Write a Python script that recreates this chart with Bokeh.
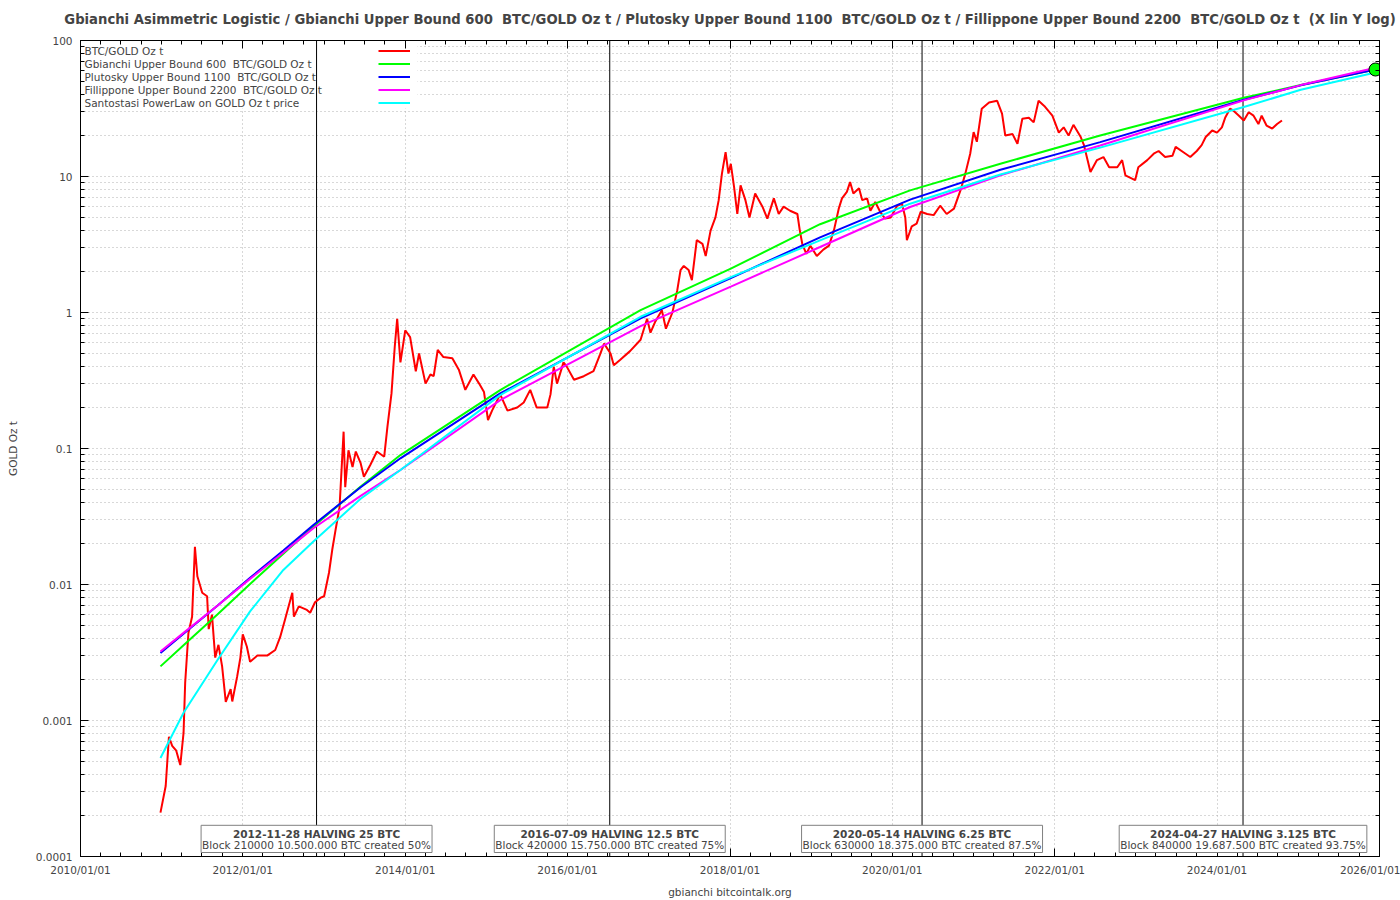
import pandas as pd

from bokeh.embed import file_html
from bokeh.models import (BoxAnnotation, ColumnDataSource, CustomJSTickFormatter,
                          DatetimeAxis, DatetimeTickFormatter, FixedTicker, Label,
                          Legend, LegendItem, LogAxis, Range1d, Span)
from bokeh.plotting import figure
from bokeh.resources import INLINE

FONT = "DejaVu Sans"
FS = "10.5px"
SP2 = " \u00a0"  # double space that svg keeps

# BTC/GOLD ratio (decimal year, GOLD Oz t)
btc_t = [2010.985, 2011.05, 2011.09, 2011.13, 2011.18, 2011.23, 2011.27, 2011.29, 2011.33, 2011.375,
         2011.41, 2011.44, 2011.50, 2011.56, 2011.58, 2011.62, 2011.66, 2011.70, 2011.745, 2011.79,
         2011.85, 2011.87, 2011.93, 2011.97, 2012.00, 2012.05, 2012.09, 2012.18, 2012.30, 2012.40,
         2012.46, 2012.52, 2012.61, 2012.63, 2012.69, 2012.79, 2012.83, 2012.89, 2012.96, 2013.00,
         2013.06, 2013.10, 2013.14, 2013.19, 2013.24, 2013.26, 2013.30, 2013.35, 2013.39, 2013.45,
         2013.49, 2013.57, 2013.65, 2013.74, 2013.78, 2013.83, 2013.87, 2013.90, 2013.94, 2014.00,
         2014.06, 2014.13, 2014.17, 2014.25, 2014.31, 2014.35, 2014.40, 2014.47, 2014.58, 2014.66,
         2014.74, 2014.84, 2014.91, 2014.97, 2015.02, 2015.07, 2015.17, 2015.26, 2015.38, 2015.46,
         2015.54, 2015.62, 2015.75, 2015.79, 2015.83, 2015.87, 2015.95, 2015.99, 2016.08, 2016.20,
         2016.32, 2016.40, 2016.45, 2016.53, 2016.57, 2016.65, 2016.77, 2016.90, 2016.98, 2017.02,
         2017.08, 2017.16, 2017.21, 2017.29, 2017.35, 2017.39, 2017.43, 2017.49, 2017.53, 2017.59,
         2017.66, 2017.70, 2017.76, 2017.82, 2017.86, 2017.90, 2017.945, 2017.98, 2018.01, 2018.05,
         2018.09, 2018.13, 2018.19, 2018.24, 2018.31, 2018.40, 2018.46, 2018.54, 2018.60, 2018.66,
         2018.74, 2018.83, 2018.86, 2018.89, 2018.94, 2018.99, 2019.07, 2019.15, 2019.22, 2019.28,
         2019.34, 2019.38, 2019.44, 2019.48, 2019.52, 2019.59, 2019.63, 2019.69, 2019.73, 2019.79,
         2019.85, 2019.91, 2019.98, 2020.06, 2020.12, 2020.16, 2020.18, 2020.24, 2020.30, 2020.35,
         2020.43, 2020.51, 2020.59, 2020.67, 2020.76, 2020.84, 2020.90, 2020.96, 2021.00, 2021.04,
         2021.10, 2021.19, 2021.29, 2021.35, 2021.39, 2021.48, 2021.54, 2021.60, 2021.68, 2021.74,
         2021.80, 2021.87, 2021.97, 2022.05, 2022.11, 2022.17, 2022.23, 2022.32, 2022.36, 2022.44,
         2022.52, 2022.60, 2022.67, 2022.77, 2022.83, 2022.87, 2022.99, 2023.03, 2023.14, 2023.22,
         2023.28, 2023.36, 2023.45, 2023.49, 2023.59, 2023.67, 2023.75, 2023.81, 2023.86, 2023.94,
         2024.00, 2024.06, 2024.10, 2024.16, 2024.20, 2024.27, 2024.33, 2024.39, 2024.45, 2024.51,
         2024.55, 2024.61, 2024.68, 2024.74, 2024.80]
btc_v = [0.00021, 0.00033, 0.00076, 0.00065, 0.00060, 0.00047, 0.00081, 0.0019, 0.0044, 0.0058,
         0.0189, 0.0115, 0.0087, 0.0082, 0.0047, 0.0060, 0.0029, 0.0036, 0.0025, 0.00137,
         0.0017, 0.00138, 0.0021, 0.0029, 0.0043, 0.0035, 0.0027, 0.0030, 0.0030, 0.0033,
         0.0041, 0.0055, 0.0087, 0.0058, 0.0069, 0.0065, 0.0062, 0.0074, 0.0080, 0.0082,
         0.0122, 0.018, 0.025, 0.037, 0.133, 0.052, 0.097, 0.073, 0.095, 0.078,
         0.062, 0.076, 0.095, 0.087, 0.145, 0.254, 0.56, 0.90, 0.43, 0.74,
         0.66, 0.37, 0.50, 0.30, 0.35, 0.34, 0.53, 0.47, 0.46, 0.38,
         0.27, 0.35, 0.30, 0.26, 0.162, 0.19, 0.25, 0.19, 0.20, 0.218,
         0.27, 0.20, 0.20, 0.25, 0.40, 0.30, 0.43, 0.40, 0.32, 0.34,
         0.37, 0.49, 0.59, 0.50, 0.41, 0.45, 0.52, 0.63, 0.90, 0.71,
         0.86, 1.04, 0.76, 1.00, 1.46, 2.05, 2.2, 2.05, 1.73, 3.4,
         3.2, 2.6, 4.0, 5.0, 6.7, 10.5, 15.1, 10.5, 12.4, 8.4,
         5.3, 8.6, 6.7, 5.0, 7.5, 6.0, 4.9, 6.9, 5.3, 6.0,
         5.6, 5.3, 4.0, 3.2, 2.7, 3.1, 2.6, 2.9, 3.1, 4.0,
         5.8, 6.9, 7.7, 9.1, 7.5, 8.2, 6.7, 6.9, 5.6, 6.5,
         5.5, 4.9, 5.0, 6.1, 6.3, 5.0, 3.4, 4.3, 4.5, 5.5,
         5.3, 5.2, 6.1, 5.3, 5.8, 7.9, 10.5, 14.7, 21.2, 18.0,
         31.5, 35.0, 36.0, 29.0, 20.0, 20.5, 17.4, 26.6, 27.0, 25.0,
         36.0, 33.0, 28.0, 21.0, 23.0, 20.0, 24.0, 19.5, 17.0, 10.8,
         13.2, 13.9, 11.7, 11.7, 13.2, 10.2, 9.4, 11.7, 13.2, 14.7,
         15.4, 13.9, 14.2, 16.5, 15.0, 13.9, 15.4, 17.0, 19.5, 21.8,
         21.0, 23.0, 27.0, 31.5, 30.6, 28.0, 25.8, 29.7, 28.0, 24.3,
         28.0, 23.7, 22.5, 24.3, 25.8]

# model curves at common dates
model_t = [2010.985, 2011.27, 2011.69, 2012.09, 2012.50, 2012.87, 2013.45, 2013.94, 2015.17,
           2016.90, 2018.01, 2019.11, 2020.22, 2021.33, 2022.56, 2024.33, 2025.03, 2025.95]
gbianchi_600 = [0.0025, 0.00357, 0.00604, 0.0101, 0.0168, 0.0267, 0.0525, 0.0895, 0.269,
                1.04, 2.10, 4.46, 7.91, 12.4, 20.0, 37.9, 47.0, 61.2]
plutosky_1100 = [0.00313, 0.00434, 0.00702, 0.0112, 0.0178, 0.0274, 0.0519, 0.0847, 0.254,
                 0.904, 1.79, 3.57, 6.76, 11.2, 17.9, 36.7, 46.8, 61.2]
fillippone_2200 = [0.00322, 0.00441, 0.0070, 0.0110, 0.0172, 0.0259, 0.0448, 0.0695, 0.227,
                   0.794, 1.55, 3.03, 5.97, 10.2, 16.9, 36.3, 47.0, 63.1]
santostasi_pl = [0.00053, 0.00114, 0.0028, 0.00634, 0.0128, 0.0207, 0.0427, 0.0695, 0.247,
                 0.93, 1.82, 3.39, 6.31, 10.35, 16.3, 32.4, 43.4, 58.2]

halving_dates = ["2012-11-28", "2016-07-09", "2020-05-14", "2024-04-27"]
halving_titles = ["2012-11-28 HALVING 25 BTC", "2016-07-09 HALVING 12.5 BTC",
                  "2020-05-14 HALVING 6.25 BTC", "2024-04-27 HALVING 3.125 BTC"]
halving_notes = ["Block 210000 10.500.000 BTC created 50%",
                 "Block 420000 15.750.000 BTC created 75%",
                 "Block 630000 18.375.000 BTC created 87.5%",
                 "Block 840000 19.687.500 BTC created 93.75%"]

legend_labels = ["BTC/GOLD Oz t",
                 "Gbianchi Upper Bound 600  BTC/GOLD Oz t",
                 "Plutosky Upper Bound 1100  BTC/GOLD Oz t",
                 "Fillippone Upper Bound 2200  BTC/GOLD Oz t",
                 "Santostasi PowerLaw on GOLD Oz t price"]
colors = ["#ff0000", "#00ff00", "#0000ff", "#ff00ff", "#00ffff"]

y_ticks = [0.0001, 0.001, 0.01, 0.1, 1, 10, 100]


def to_dt(years):
    out = []
    for y in years:
        yi = int(y)
        out.append(pd.Timestamp(yi, 1, 1) + pd.Timedelta(days=(y - yi) * 365.25))
    return out


def ms(ts):
    return pd.Timestamp(ts).value / 1e6


def keep_spaces(s):
    return s.replace("  ", SP2)


x_major = [ms(f"{y}-01-01") for y in range(2010, 2027, 2)]
x_minor = [ms(f"{y}-{m:02d}-01") for y in range(2010, 2026) for m in (1, 4, 7, 10)]
y_minor = [k * t for t in y_ticks[:-1] for k in range(2, 10)]

title = ("Gbianchi Asimmetric Logistic / Gbianchi Upper Bound 600  BTC/GOLD Oz t / "
         "Plutosky Upper Bound 1100  BTC/GOLD Oz t / Fillippone Upper Bound 2200  BTC/GOLD Oz t  "
         "(X lin Y log)")

p = figure(width=1400, height=900, x_axis_type="datetime", y_axis_type="log",
           x_range=Range1d(ms("2010-01-01"), ms("2026-01-01")), y_range=Range1d(0.0001, 100),
           output_backend="svg", toolbar_location=None,
           min_border_left=80, min_border_right=21, min_border_top=40, min_border_bottom=43)
p.title.text = keep_spaces(title)
p.title.align = "center"
p.title.vertical_align = "top"
p.title.text_font = FONT
p.title.text_font_size = "13.2px"
p.title.text_font_style = "bold"
p.title.standoff = 23
p.outline_line_color = "black"
p.outline_line_alpha = 1

xticker = FixedTicker(ticks=x_major, minor_ticks=x_minor)
yticker = FixedTicker(ticks=y_ticks, minor_ticks=y_minor)
xfmt = DatetimeTickFormatter(years="%Y/%m/%d", months="%Y/%m/%d", days="%Y/%m/%d")
yfmt = CustomJSTickFormatter(code="return tick.toString()")
blank = CustomJSTickFormatter(code="return ''")


def style_axis(ax):
    ax.axis_line_color = "black"
    ax.major_tick_in = 8
    ax.major_tick_out = 0
    ax.minor_tick_in = 4
    ax.minor_tick_out = 0
    ax.major_tick_line_color = "black"
    ax.minor_tick_line_color = "black"
    ax.major_label_text_font = FONT
    ax.major_label_text_font_size = FS
    ax.axis_label_text_font = FONT
    ax.axis_label_text_font_size = FS
    ax.axis_label_text_font_style = "normal"


xa = p.xaxis[0]
xa.ticker = xticker
xa.formatter = xfmt
style_axis(xa)
xa.major_label_standoff = 7
xa.axis_label = "gbianchi bitcointalk.org"
xa.axis_label_standoff = 7

ya = p.yaxis[0]
ya.ticker = yticker
ya.formatter = yfmt
style_axis(ya)
ya.major_label_standoff = 8
ya.axis_label = "GOLD Oz t"
ya.axis_label_standoff = 14

top = DatetimeAxis(ticker=xticker, formatter=blank)
style_axis(top)
top.major_label_standoff = 0
p.add_layout(top, "above")
right = LogAxis(ticker=yticker, formatter=blank)
style_axis(right)
right.major_label_standoff = 0
p.add_layout(right, "right")

p.xgrid.ticker = FixedTicker(ticks=x_major)
for g in (p.xgrid[0], p.ygrid[0]):
    g.grid_line_color = "#b0b0b0"
    g.grid_line_dash = "1 3"
p.ygrid.minor_grid_line_color = "#b0b0b0"
p.ygrid.minor_grid_line_dash = "1 3"

# white key box over the grid, like gnuplot's opaque key
key_bg = BoxAnnotation(left=1, right=337, top=817, bottom=748,
                       left_units="screen", right_units="screen",
                       top_units="screen", bottom_units="screen",
                       fill_color="white", fill_alpha=1, line_alpha=0, level="underlay")
p.add_layout(key_bg)

for d in halving_dates:
    p.add_layout(Span(location=ms(d), dimension="height", line_color="black",
                      line_width=1, level="underlay"))

btc_src = ColumnDataSource(dict(t=to_dt(btc_t), v=btc_v))
model_src = ColumnDataSource(dict(t=to_dt(model_t), g=gbianchi_600, b=plutosky_1100,
                                  m=fillippone_2200, c=santostasi_pl))

r_btc = p.line("t", "v", source=btc_src, line_color=colors[0], line_width=2)
r_g = p.line("t", "g", source=model_src, line_color=colors[1], line_width=2)
r_b = p.line("t", "b", source=model_src, line_color=colors[2], line_width=2)
r_m = p.line("t", "m", source=model_src, line_color=colors[3], line_width=2)
r_c = p.line("t", "c", source=model_src, line_color=colors[4], line_width=2)

end_src = ColumnDataSource(dict(t=to_dt(model_t[-1:]), v=gbianchi_600[-1:]))
p.scatter("t", "v", source=end_src, size=13, fill_color="#00ff00", line_color="black")

# key: texts on the left, line samples on the right (location = bottom-left of the key)
legend = Legend(items=[LegendItem(label="\u00a0", renderers=[r])
                       for r in (r_btc, r_g, r_b, r_m, r_c)],
                location=(298, 747), padding=0, margin=0, spacing=0,
                glyph_width=32, glyph_height=13, label_width=0, label_height=13,
                label_standoff=0, label_text_font_size=FS,
                background_fill_alpha=0, border_line_alpha=0)
p.add_layout(legend)
for i, txt in enumerate(legend_labels):
    p.add_layout(Label(x=4, y=805.5 - 13 * i, x_units="screen", y_units="screen",
                       text=keep_spaces(txt), text_font=FONT, text_font_size=FS,
                       text_baseline="middle"))

for d, t1, t2 in zip(halving_dates, halving_titles, halving_notes):
    p.add_layout(Label(x=ms(d), y=4, y_units="screen", text="\n" + t2,
                       text_align="center", text_baseline="bottom",
                       text_font=FONT, text_font_size=FS, text_line_height=1.1,
                       border_line_color="#808080", border_line_width=1,
                       background_fill_color="white", padding=1))
    p.add_layout(Label(x=ms(d), y=22.5, y_units="screen", text=t1,
                       text_align="center", text_baseline="middle",
                       text_font=FONT, text_font_size=FS, text_font_style="bold"))

open("out.html", "w").write(file_html(p, INLINE))
